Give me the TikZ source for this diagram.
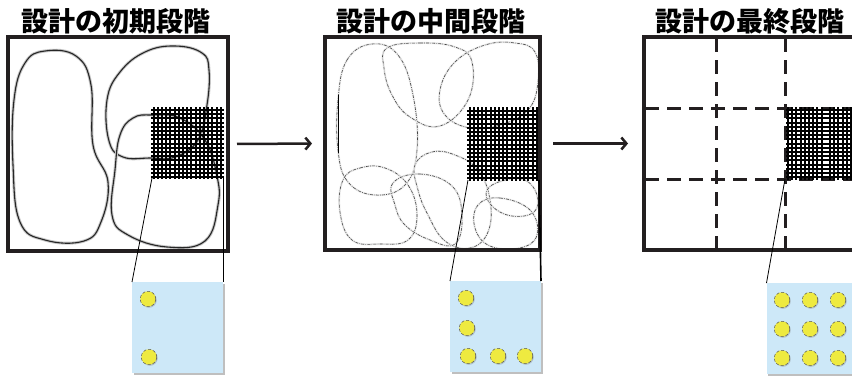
\documentclass[tikz,border=0pt]{standalone}
\usepackage{fontspec}
\newfontfamily\cjk{Noto Sans CJK JP}
\usetikzlibrary{arrows.meta,shadows}
\definecolor{insetblue}{HTML}{CDE8F8}
\definecolor{dotyellow}{HTML}{EEEA40}
\definecolor{frm}{HTML}{231F20}
\tikzset{
  frame/.style={draw=frm, line width=3.5pt, inner sep=0pt, outer sep=0pt, fill=white,
    drop shadow={shadow xshift=1.5pt, shadow yshift=-1.5pt, opacity=0.35}},
  title/.style={font=\cjk\bfseries\fontsize{27}{27}\selectfont, inner sep=0pt, text=black},
  insetbox/.style={fill=insetblue, inner sep=0pt, outer sep=0pt, minimum width=91pt, minimum height=91pt,
    drop shadow={shadow xshift=1.5pt, shadow yshift=-1.5pt, opacity=0.5}},
  dotc/.style={circle, fill=dotyellow, draw=black!65, densely dashed, line width=0.5pt,
    minimum size=15.5pt, inner sep=0pt, drop shadow={shadow xshift=1pt, shadow yshift=-1pt, opacity=0.4}},
  conn/.style={draw=black, line width=0.8pt},
  connthick/.style={draw=black, line width=1.6pt},
  arr/.style={draw=frm, line width=2.5pt, -{Straight Barb[length=5pt,width=12pt]}},
  pat/.style={draw=black, line width=2pt},
  blob/.style={draw=black!85, line width=1.1pt, preaction={draw=black!22, line width=3pt}},
  dblob/.style={draw=black!72, line width=0.6pt, dash pattern=on 3pt off 1.2pt on 0.7pt off 1.2pt,
    preaction={draw=black!8, line width=2pt, solid}},
  dash3/.style={draw=frm, line width=3pt, dash pattern=on 14pt off 8pt},
}
\begin{document}
\begin{tikzpicture}[x=1pt, y=-1pt]
\clip (0,0) rectangle (852,376);
\fill[white] (0,0) rectangle (852,376);

% titles
\node[title] (t1) at (116,21) {設計の初期段階};
\node[title] (t2) at (431,21) {設計の中間段階};
\node[title] (t3) at (750,21) {設計の最終段階};

% frames
\node[frame, minimum width=220pt, minimum height=214pt] (f1) at (118,144) {};
\node[frame, minimum width=215pt, minimum height=213pt] (f2) at (432.5,143.5) {};
\node[frame, minimum width=214pt, minimum height=213pt] (f3) at (751,143.5) {};

% arrows
\draw[arr, shorten <=9pt, shorten >=13pt] (f1.east) -- (f2.west);
\draw[arr, shorten <=13pt, shorten >=16pt] (f2.east) -- (f3.west);

% ---- panel 1 curves
\draw[blob] plot[smooth cycle, tension=0.7] coordinates {(14,100) (25,63) (45,51) (76,56) (91,85) (93,145) (108,182) (101,222) (84,241) (45,240) (20,222) (13,165)};
\draw[blob] plot[smooth cycle, tension=0.7] coordinates {(123,157) (109,141) (107,100) (120,72) (145,52) (175,46) (202,53) (209,70) (207,105) (198,140) (175,157) (150,158)};
\draw[blob] plot[smooth cycle, tension=0.7] coordinates {(152,115) (133,118) (120,135) (115,170) (112,215) (128,235) (167,247) (205,241) (218,205) (217,176) (205,140) (180,118)};

% patch 1
\foreach \i in {0,...,16} \draw[pat] ({153.5+4.2*\i},107) -- ({153.5+4.2*\i},179);
\foreach \j in {0,...,16} \draw[pat] (151,{110+4.2*\j}) -- (224,{110+4.2*\j});
\coordinate (p1bl) at (152,178);
\coordinate (p1br) at (223,178);

% ---- panel 2 curves
\draw[dblob] plot[smooth cycle, tension=0.7] coordinates {(338,100) (347,60) (372,44) (398,55) (413,95) (417,150) (405,185) (375,195) (348,182) (338,150)};
\draw[dblob] plot[smooth cycle, tension=0.7] coordinates {(387,48) (420,43) (455,47) (472,62) (468,100) (440,126) (410,117) (392,95) (384,68)};
\draw[dblob] plot[smooth cycle, tension=0.7] coordinates {(440,90) (455,62) (485,45) (515,43) (535,52) (538,82) (528,110) (500,125) (470,128) (445,115)};
\draw[dblob] plot[smooth cycle, tension=0.7] coordinates {(415,165) (432,152) (455,155) (478,170) (490,200) (488,232) (470,248) (445,241) (428,215) (418,190)};
\draw[dblob] plot[smooth cycle, tension=0.7] coordinates {(343,180) (360,168) (385,168) (408,185) (417,215) (408,240) (380,244) (352,240) (340,212)};
\draw[dblob] plot[smooth cycle, tension=0.7] coordinates {(393,183) (420,174) (452,186) (462,215) (455,244) (430,240) (405,225) (395,205)};
\draw[dblob] plot[smooth cycle, tension=0.7] coordinates {(487,190) (505,180) (525,180) (537,195) (534,212) (512,216) (492,206)};
\draw[dblob] plot[smooth cycle, tension=0.7] coordinates {(478,205) (500,198) (530,210) (537,235) (520,248) (490,246) (475,228)};
\draw[black, line width=0.8pt] (338,95) -- (338,153);

% patch 2
\foreach \i in {0,...,16} \draw[pat] ({469.5+4.2*\i},107) -- ({469.5+4.2*\i},181);
\foreach \j in {0,...,16} \draw[pat] (467,{111+4.2*\j}) -- (539,{111+4.2*\j});
\coordinate (p2bl) at (468,180);
\coordinate (p2br) at (539,180);

% ---- panel 3 grid
\draw[dash3] (716,38) -- (716,250);
\draw[dash3] (785,38) -- (785,250);
\draw[dash3] (645,108) -- (858,108);
\draw[dash3] (645,179) -- (858,179);

% patch 3
\foreach \i in {0,...,8} \draw[pat] ({788+4.2*\i},107) -- ({788+4.2*\i},180);
\foreach \i in {10,...,17} \draw[pat] ({788+4.2*\i},107) -- ({788+4.2*\i},180);
\foreach \j in {0,...,16} \draw[pat] (786,{110+4.2*\j}) -- (860,{110+4.2*\j});
\coordinate (p3bl) at (785,179);

% redraw frame borders on top
\draw[frm, line width=3.5pt] (f1.north west) rectangle (f1.south east);
\draw[frm, line width=3.5pt] (f2.north west) rectangle (f2.south east);
\draw[frm, line width=3.5pt] (f3.north west) rectangle (f3.south east);

% insets
\node[insetbox] (i1) at (177.5,327.5) {};
\node[insetbox] (i2) at (495.5,326.5) {};
\node[insetbox] (i3) at (812,328.5) {};

% connectors
\draw[conn] (p1bl) -- (i1.north west);
\draw[conn] (p1br) -- (i1.north east);
\draw[conn] (p2bl) -- (i2.north west);
\draw[connthick] (p2br) -- (i2.north east);
\draw[conn] (p3bl) -- (i3.north west);

% dots
\node[dotc] (d11) at (148,299) {};
\node[dotc] (d12) at (149,357) {};

\node[dotc] (d21) at (466,298) {};
\node[dotc] (d22) at (467,328) {};
\node[dotc] (d23) at (468,356) {};
\node[dotc] (d24) at (498,356) {};
\node[dotc] (d25) at (525,356) {};

\foreach \cx/\nx in {782/a,810/b,838/c}
  \foreach \cy/\ny in {300/a,329/b,358/c}
    \node[dotc] (d3\nx\ny) at (\cx,\cy) {};
\end{tikzpicture}
\end{document}
